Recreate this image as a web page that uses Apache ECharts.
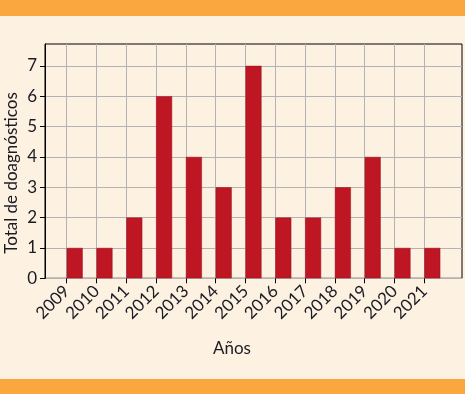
<!DOCTYPE html>
<html>
<head>
<meta charset="utf-8">
<script src="https://cdn.jsdelivr.net/npm/echarts@6/dist/echarts.min.js"></script>
<style>
  html, body { margin: 0; padding: 0; background: #fdf1e1; }
  #chart { width: 465px; height: 394px; }
</style>
</head>
<body>
<div id="chart"></div>
<script>
var years = ['2009','2010','2011','2012','2013','2014','2015','2016','2017','2018','2019','2020','2021'];
var totals = [1, 1, 2, 6, 4, 3, 7, 2, 2, 3, 4, 1, 1];
var yTicks = [0, 1, 2, 3, 4, 5, 6, 7];
var yMax = 7.72;
var yTitle = 'Total de doagnósticos';

var txt = '#1b1b24';
var font = 'Lato';

var chart = echarts.init(document.getElementById('chart'));
var options = {
  backgroundColor: '#fdf1e1',
  animation: false,
  graphic: [
    { type: 'rect', left: 0, top: 0, shape: { width: 465, height: 16 }, style: { fill: '#f9a73e' } },
    { type: 'rect', left: 0, top: 379, shape: { width: 465, height: 15 }, style: { fill: '#f9a73e' } },
    {
      type: 'text', x: 12, y: 173, rotation: Math.PI / 2,
      style: { text: yTitle, fill: txt, font: '17px Lato', align: 'center', verticalAlign: 'middle' }
    }
  ],
  grid: [
    // outer frame, carries the y axis
    { left: 45, right: 3, top: 44, bottom: 115.7, show: true, borderColor: '#000', borderWidth: 1, backgroundColor: 'transparent', outerBoundsMode: 'none' },
    // inner grid, carries the category axis
    { left: 66.7, right: 40.7, top: 44, bottom: 115.7, outerBoundsMode: 'none' }
  ],
  xAxis: [
    { gridIndex: 0, type: 'value', min: 0, max: 1, show: false },
    {
      gridIndex: 1,
      type: 'category',
      data: years,
      boundaryGap: false,
      axisLine: { show: false },
      axisTick: { show: true, length: 5, lineStyle: { color: '#000', width: 1 } },
      splitLine: { show: true, lineStyle: { color: '#b3b3b3', width: 1 } },
      axisLabel: { rotate: 45, margin: 10, color: txt, fontFamily: font, fontSize: 17, interval: 0 },
      name: 'Años',
      nameLocation: 'middle',
      nameGap: 62,
      nameTextStyle: { color: txt, fontFamily: font, fontSize: 17, padding: [0, 27, 0, 0] }
    }
  ],
  yAxis: [
    {
      gridIndex: 0,
      type: 'value',
      min: 0,
      max: yMax,
      interval: 1,
      axisLine: { show: true, lineStyle: { color: '#000', width: 1 } },
      axisTick: { show: true, length: 5, customValues: yTicks, lineStyle: { color: '#000', width: 1 } },
      axisLabel: { customValues: yTicks, margin: 8, color: txt, fontFamily: font, fontSize: 17 },
      splitLine: { show: true, lineStyle: { color: '#b3b3b3', width: 1 } }
    },
    { gridIndex: 1, type: 'value', min: 0, max: yMax, show: false }
  ],
  series: [
    {
      // empty spacer so the real bar sits right of its tick
      type: 'bar',
      xAxisIndex: 1,
      yAxisIndex: 1,
      data: years.map(function () { return '-'; }),
      barWidth: 16,
      barGap: '0%',
      silent: true
    },
    {
      name: 'Total',
      type: 'bar',
      xAxisIndex: 1,
      yAxisIndex: 1,
      data: totals,
      barWidth: 16,
      barGap: '0%',
      clip: false,
      itemStyle: { color: '#be1622', borderColor: '#9a1220', borderWidth: 0.5 }
    }
  ]
};
chart.setOption(options);
</script>
</body>
</html>
